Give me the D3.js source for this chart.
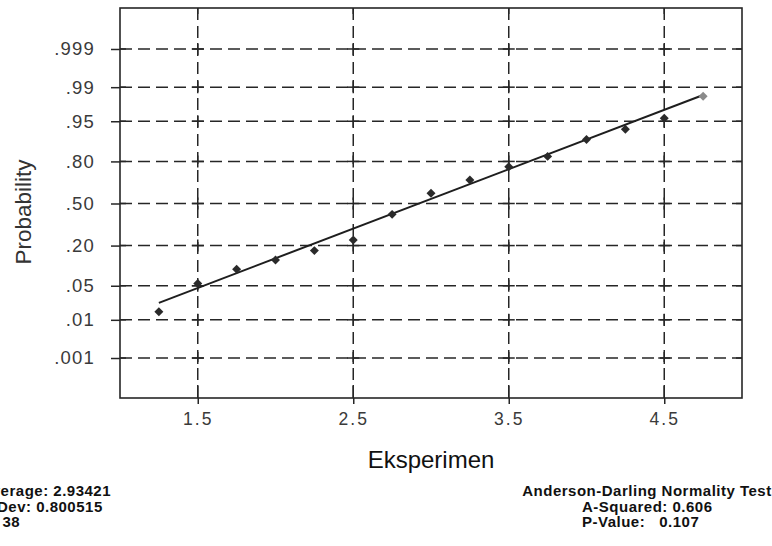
<!DOCTYPE html>
<html>
<head>
<meta charset="utf-8">
<script src="https://cdn.jsdelivr.net/npm/d3@7"></script>
<style>
  html, body { margin: 0; padding: 0; background: #fff; }
  svg { display: block; font-family: "Liberation Sans", Arial, Helvetica, sans-serif; }
</style>
</head>
<body>
<svg id="chart" width="772" height="546"></svg>
<script>
// ---- data ----
const xValues = [1.25, 1.5, 1.75, 2.0, 2.25, 2.5, 2.75, 3.0, 3.25, 3.5, 3.75, 4.0, 4.25, 4.5, 4.75];
const probValues = [0.0152, 0.055, 0.094, 0.129, 0.173, 0.233, 0.414, 0.581, 0.681, 0.769, 0.827, 0.900, 0.931, 0.956, 0.984];
const fitX = [1.25, 4.75];
const fitP = [0.0235, 0.985];
const xTicks = [1.5, 2.5, 3.5, 4.5];
const yTickProbs = [0.001, 0.01, 0.05, 0.2, 0.5, 0.8, 0.95, 0.99, 0.999];
const yTickLabels = [".001", ".01", ".05", ".20", ".50", ".80", ".95", ".99", ".999"];
const statsLeft = ["Average: 2.93421", "StDev: 0.800515", "N: 38"];
const statsTitle = "Anderson-Darling Normality Test";
const statsRight = ["A-Squared: 0.606", "P-Value:   0.107"];
const xTitle = "Eksperimen";
const yTitle = "Probability";

// inverse normal CDF (Acklam) used as the probability-axis transform
function probit(p) {
  const a = [-3.969683028665376e+01, 2.209460984245205e+02, -2.759285104469687e+02, 1.383577518672690e+02, -3.066479806614716e+01, 2.506628277459239e+00];
  const b = [-5.447609879822406e+01, 1.615858368580409e+02, -1.556989798598866e+02, 6.680131188771972e+01, -1.328068155288572e+01];
  const c = [-7.784894002430293e-03, -3.223964580411365e-01, -2.400758277161838e+00, -2.549732539343734e+00, 4.374664141464968e+00, 2.938163982698783e+00];
  const d = [7.784695709041462e-03, 3.224671290700398e-01, 2.445134137142996e+00, 3.754408661907416e+00];
  const pl = 0.02425, ph = 1 - pl;
  let q, r;
  if (p < pl) {
    q = Math.sqrt(-2 * Math.log(p));
    return (((((c[0]*q+c[1])*q+c[2])*q+c[3])*q+c[4])*q+c[5]) / ((((d[0]*q+d[1])*q+d[2])*q+d[3])*q+1);
  } else if (p <= ph) {
    q = p - 0.5; r = q * q;
    return (((((a[0]*r+a[1])*r+a[2])*r+a[3])*r+a[4])*r+a[5])*q / (((((b[0]*r+b[1])*r+b[2])*r+b[3])*r+b[4])*r+1);
  } else {
    q = Math.sqrt(-2 * Math.log(1 - p));
    return -(((((c[0]*q+c[1])*q+c[2])*q+c[3])*q+c[4])*q+c[5]) / ((((d[0]*q+d[1])*q+d[2])*q+d[3])*q+1);
  }
}

const svg = d3.select("#chart");
const L = 120, R = 742, T = 8, B = 398;
const ink = "#262626";

const x = d3.scaleLinear().domain([1.0, 5.0]).range([L, R]);
const yz = d3.scaleLinear().domain([-3.89, 3.91]).range([B, T]);
const y = p => yz(probit(p));

const dash = "12,6";

// horizontal dashed grid
svg.append("g").selectAll("line").data(yTickProbs).join("line")
  .attr("x1", L).attr("x2", R)
  .attr("y1", d => y(d)).attr("y2", d => y(d))
  .attr("stroke", ink).attr("stroke-width", 1.5).attr("stroke-dasharray", dash);

// vertical dashed grid
svg.append("g").selectAll("line").data(xTicks).join("line")
  .attr("x1", d => x(d)).attr("x2", d => x(d))
  .attr("y1", T).attr("y2", B)
  .attr("stroke", ink).attr("stroke-width", 1.5).attr("stroke-dasharray", dash);

// small crosses at intersections
const crosses = [];
xTicks.forEach(xv => yTickProbs.forEach(pv => crosses.push([xv, pv])));
const cg = svg.append("g").attr("stroke", ink).attr("stroke-width", 1.5);
cg.selectAll("line.h").data(crosses).join("line").attr("class", "h")
  .attr("x1", d => x(d[0]) - 6).attr("x2", d => x(d[0]) + 6)
  .attr("y1", d => y(d[1])).attr("y2", d => y(d[1]));
cg.selectAll("line.v").data(crosses).join("line").attr("class", "v")
  .attr("x1", d => x(d[0])).attr("x2", d => x(d[0]))
  .attr("y1", d => y(d[1]) - 6).attr("y2", d => y(d[1]) + 6);

// inner tick stubs
cg.selectAll("line.yi").data(yTickProbs).join("line").attr("class", "yi")
  .attr("x1", L).attr("x2", L + 6).attr("y1", d => y(d)).attr("y2", d => y(d));
cg.selectAll("line.yr").data(yTickProbs).join("line").attr("class", "yr")
  .attr("x1", R - 6).attr("x2", R).attr("y1", d => y(d)).attr("y2", d => y(d));
cg.selectAll("line.xi").data(xTicks).join("line").attr("class", "xi")
  .attr("x1", d => x(d)).attr("x2", d => x(d)).attr("y1", B - 13).attr("y2", B);
cg.selectAll("line.xt").data(xTicks).join("line").attr("class", "xt")
  .attr("x1", d => x(d)).attr("x2", d => x(d)).attr("y1", T).attr("y2", T + 6);

// frame
svg.append("rect").attr("x", L).attr("y", T).attr("width", R - L).attr("height", B - T)
  .attr("fill", "none").attr("stroke", ink).attr("stroke-width", 1.6);

// axes
const xAxis = d3.axisBottom(x).tickValues(xTicks).tickFormat(d3.format(".1f")).tickSize(6).tickPadding(9);
const gx = svg.append("g").attr("transform", `translate(0,${B})`).call(xAxis);
gx.select(".domain").remove();
gx.selectAll(".tick line").attr("stroke", ink).attr("stroke-width", 1.5);
gx.selectAll(".tick text").attr("fill", "#3a3a3a").style("font-size", "17.5px").style("letter-spacing", "2px");

const yAxis = d3.axisLeft(yz).tickValues(yTickProbs.map(probit))
  .tickFormat((d, i) => yTickLabels[i]).tickSize(9).tickPadding(16);
const gy = svg.append("g").attr("transform", `translate(${L},0)`).call(yAxis);
gy.select(".domain").remove();
gy.selectAll(".tick line").attr("stroke", ink).attr("stroke-width", 1.5);
gy.selectAll(".tick text").attr("fill", "#3a3a3a").style("font-size", "18.5px").style("letter-spacing", "1.2px");
svg.selectAll(".tick text").attr("font-family", null).style("font-family", "'Liberation Sans', Arial, sans-serif");

// fitted line
svg.append("line")
  .attr("x1", x(fitX[0])).attr("y1", y(fitP[0]))
  .attr("x2", x(fitX[1])).attr("y2", y(fitP[1]))
  .attr("stroke", "#1e1e1e").attr("stroke-width", 2);

// points
const pts = xValues.map((v, i) => ({ x: v, p: probValues[i], i }));
svg.append("g").selectAll("path").data(pts).join("path")
  .attr("d", d3.symbol(d3.symbolSquare, 40))
  .attr("transform", d => `translate(${x(d.x)},${y(d.p)}) rotate(45)`)
  .attr("fill", d => d.i === pts.length - 1 ? "#8a8a8a" : "#2a2a2a");

// axis titles
svg.append("text").attr("x", (L + R) / 2).attr("y", 468).attr("text-anchor", "middle")
  .style("font-size", "24px").style("letter-spacing", "0px").attr("fill", "#111").text(xTitle);
svg.append("text").attr("transform", `translate(31,212) rotate(-90)`).attr("text-anchor", "middle")
  .style("font-size", "22.5px").attr("fill", "#333").text(yTitle);

// stats blocks
svg.append("g").selectAll("text").data(statsLeft).join("text")
  .attr("x", -19).attr("y", (d, i) => 496 + i * 15.5)
  .style("font-size", "15px").style("font-weight", "bold").style("letter-spacing", "0.5px").attr("fill", "#111")
  .text(d => d);
svg.append("text").attr("x", 647).attr("y", 496).attr("text-anchor", "middle")
  .style("font-size", "15px").style("font-weight", "bold").style("letter-spacing", "0.5px").attr("fill", "#111")
  .text(statsTitle);
svg.append("g").selectAll("text").data(statsRight).join("text")
  .attr("x", 582).attr("y", (d, i) => 511.5 + i * 15.5)
  .style("font-size", "15px").style("font-weight", "bold").style("letter-spacing", "0.5px").attr("fill", "#111")
  .style("white-space", "pre").attr("xml:space", "preserve")
  .text(d => d);
</script>
</body>
</html>
